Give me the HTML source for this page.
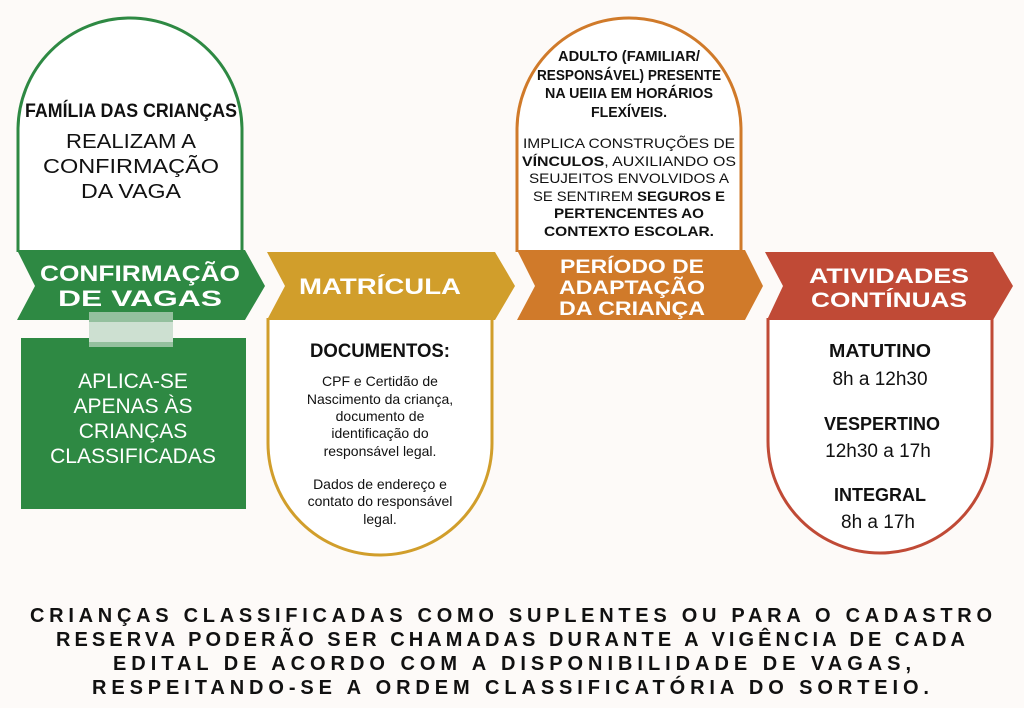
<!DOCTYPE html>
<html><head><meta charset="utf-8"><style>
html,body{margin:0;padding:0;background:#fdfaf8;}
svg{display:block;}
text{font-family:"Liberation Sans",sans-serif;}
</style></head><body>
<svg width="1024" height="708" viewBox="0 0 1024 708" xmlns="http://www.w3.org/2000/svg">
<rect width="1024" height="708" fill="#fdfaf8"/>
<path d="M18,252 V130 A112,112 0 0 1 242,130 V252" fill="#fff" stroke="#2e8943" stroke-width="3"/>
<path d="M517,252 V130 A112,112 0 0 1 741,130 V252" fill="#fff" stroke="#d07a2a" stroke-width="3"/>
<path d="M268,318 V443 A112,112 0 0 0 492,443 V318" fill="#fff" stroke="#d19e2b" stroke-width="3"/>
<path d="M768,318 V441 A112,112 0 0 0 992,441 V318" fill="#fff" stroke="#c04a36" stroke-width="3"/>
<polygon points="17,250 245,250 265,286 245,320 17,320 35,286" fill="#2e8943"/>
<polygon points="267,252 495,252 515,286 495,320 267,320 285,286" fill="#d19e2b"/>
<polygon points="517,250 745,250 763,286 745,320 517,320 535,286" fill="#d07a2a"/>
<polygon points="765,252 993,252 1013,286 993,320 767,320 783,286" fill="#c04a36"/>
<rect x="21" y="338" width="225" height="171" fill="#2e8943"/>
<rect x="89" y="312" width="84" height="35" fill="#94c09e"/>
<rect x="89" y="322" width="84" height="20" fill="#e6eee7" opacity="0.7"/>

<g fill="#fff" text-anchor="middle" font-weight="bold">
<text x="140" y="281" font-size="22" textLength="200" lengthAdjust="spacingAndGlyphs">CONFIRMAÇÃO</text>
<text x="140" y="306" font-size="22" textLength="164" lengthAdjust="spacingAndGlyphs">DE VAGAS</text>
<text x="380" y="294" font-size="22" textLength="162" lengthAdjust="spacingAndGlyphs">MATRÍCULA</text>
<text x="632" y="273" font-size="19" textLength="144" lengthAdjust="spacingAndGlyphs">PERÍODO DE</text>
<text x="632" y="294" font-size="19" textLength="146" lengthAdjust="spacingAndGlyphs">ADAPTAÇÃO</text>
<text x="632" y="315" font-size="19" textLength="146" lengthAdjust="spacingAndGlyphs">DA CRIANÇA</text>
<text x="889" y="283" font-size="21" textLength="160" lengthAdjust="spacingAndGlyphs">ATIVIDADES</text>
<text x="889" y="307" font-size="21" textLength="156" lengthAdjust="spacingAndGlyphs">CONTÍNUAS</text>
</g>

<g text-anchor="middle" fill="#111">
<text x="131" y="117" font-size="19" font-weight="bold" textLength="212" lengthAdjust="spacingAndGlyphs">FAMÍLIA DAS CRIANÇAS</text>
<text x="131" y="148" font-size="20" textLength="130" lengthAdjust="spacingAndGlyphs">REALIZAM A</text>
<text x="131" y="173" font-size="20" textLength="176" lengthAdjust="spacingAndGlyphs">CONFIRMAÇÃO</text>
<text x="131" y="198" font-size="20" textLength="100" lengthAdjust="spacingAndGlyphs">DA VAGA</text>

<g font-size="15" font-weight="bold">
<text x="629" y="61" textLength="142" lengthAdjust="spacingAndGlyphs">ADULTO (FAMILIAR/</text>
<text x="629" y="80" textLength="184" lengthAdjust="spacingAndGlyphs">RESPONSÁVEL) PRESENTE</text>
<text x="629" y="98" textLength="168" lengthAdjust="spacingAndGlyphs">NA UEIIA EM HORÁRIOS</text>
<text x="629" y="117" textLength="76" lengthAdjust="spacingAndGlyphs">FLEXÍVEIS.</text>
</g>
<g font-size="14">
<text x="629" y="148" textLength="212" lengthAdjust="spacingAndGlyphs">IMPLICA CONSTRUÇÕES DE</text>
<text x="629" y="166" textLength="214" lengthAdjust="spacingAndGlyphs"><tspan font-weight="bold">VÍNCULOS</tspan>, AUXILIANDO OS</text>
<text x="629" y="183" textLength="200" lengthAdjust="spacingAndGlyphs">SEUJEITOS ENVOLVIDOS A</text>
<text x="629" y="201" textLength="192" lengthAdjust="spacingAndGlyphs">SE SENTIREM <tspan font-weight="bold">SEGUROS E</tspan></text>
<text x="629" y="218" font-weight="bold" textLength="150" lengthAdjust="spacingAndGlyphs">PERTENCENTES AO</text>
<text x="629" y="236" font-weight="bold" textLength="170" lengthAdjust="spacingAndGlyphs">CONTEXTO ESCOLAR.</text>
</g>

<text x="380" y="357" font-size="19" font-weight="bold" textLength="140" lengthAdjust="spacingAndGlyphs">DOCUMENTOS:</text>
<g font-size="14">
<text x="380" y="386">CPF e Certidão de</text>
<text x="380" y="404">Nascimento da criança,</text>
<text x="380" y="421">documento de</text>
<text x="380" y="438">identificação do</text>
<text x="380" y="456">responsável legal.</text>
<text x="380" y="489">Dados de endereço e</text>
<text x="380" y="506">contato do responsável</text>
<text x="380" y="524">legal.</text>
</g>

<g font-size="18" font-weight="bold">
<text x="880" y="357" textLength="102" lengthAdjust="spacingAndGlyphs">MATUTINO</text>
<text x="882" y="430" textLength="116" lengthAdjust="spacingAndGlyphs">VESPERTINO</text>
<text x="880" y="501" textLength="92" lengthAdjust="spacingAndGlyphs">INTEGRAL</text>
</g>
<g font-size="19">
<text x="880" y="385">8h a 12h30</text>
<text x="878" y="457">12h30 a 17h</text>
<text x="878" y="528">8h a 17h</text>
</g>
</g>

<g fill="#fff" text-anchor="middle" font-size="21">
<text x="133" y="388">APLICA-SE</text>
<text x="133" y="413">APENAS ÀS</text>
<text x="133" y="438">CRIANÇAS</text>
<text x="133" y="463">CLASSIFICADAS</text>
</g>

<g fill="#111" font-size="20" font-weight="bold">
<text x="30" y="622" textLength="962" lengthAdjust="spacing">CRIANÇAS CLASSIFICADAS COMO SUPLENTES OU PARA O CADASTRO</text>
<text x="56" y="646" textLength="909" lengthAdjust="spacing">RESERVA PODERÃO SER CHAMADAS DURANTE A VIGÊNCIA DE CADA</text>
<text x="113" y="670" textLength="798" lengthAdjust="spacing">EDITAL DE ACORDO COM A DISPONIBILIDADE DE VAGAS,</text>
<text x="92" y="694" textLength="837" lengthAdjust="spacing">RESPEITANDO-SE A ORDEM CLASSIFICATÓRIA DO SORTEIO.</text>
</g>
</svg>
</body></html>
